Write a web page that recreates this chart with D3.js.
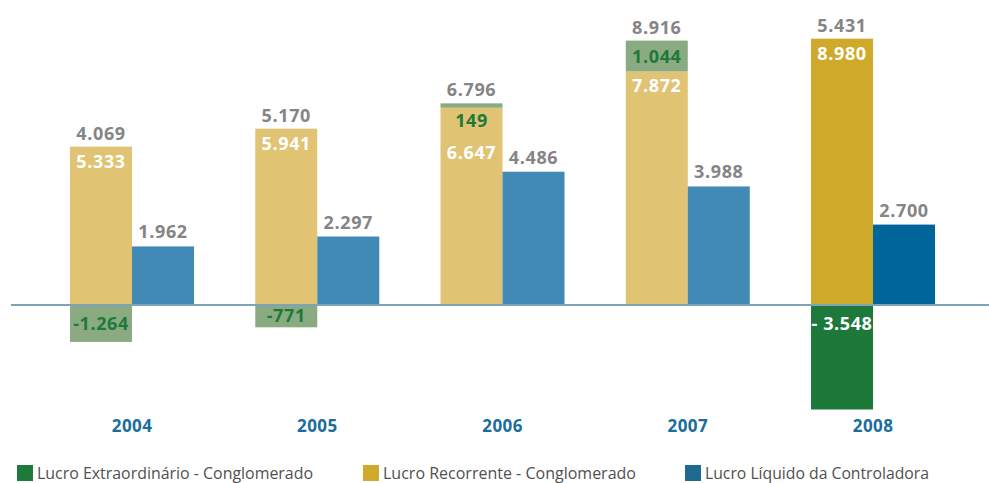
<!DOCTYPE html>
<html>
<head>
<meta charset="utf-8">
<script src="https://cdn.jsdelivr.net/npm/d3@7"></script>
<style>
html,body{margin:0;padding:0;background:#fff;}
svg{display:block;}
</style>
</head>
<body>
<svg id="chart" width="989" height="483"></svg>
<script>
const years = ['2004','2005','2006','2007','2008'];
const recorrente = [5333, 5941, 6647, 7872, 8980];
const extraordinario = [-1264, -771, 149, 1044, -3548];
const liquido = [1962, 2297, 4486, 3988, 2700];
const totais = [4069, 5170, 6796, 8916, 5431];
const extraLabels = ['-1.264', '-771', '149', '1.044', '- 3.548'];
const legendLabels = ['Lucro Extraordinário - Conglomerado', 'Lucro Recorrente - Conglomerado', 'Lucro Líquido da Controladora'];
const highlightYear = '2008';

const pt = d3.formatLocale({decimal: ',', thousands: '.', grouping: [3], currency: ['R$', '']});
const fmt = pt.format(',d');

const svg = d3.select('#chart');
const x = d3.scaleBand().domain(years).range([39.4, 965.65]).paddingInner(0.3306).paddingOuter(0.1653);
const sub = d3.scaleBand().domain(['rec', 'liq']).range([0, x.bandwidth()]);
const y = d3.scaleLinear().domain([-4000, 10000]).range([304.5 + 4000 * 0.0296, 304.5 - 10000 * 0.0296]);

const col = {
  rec: '#e0c373', recH: '#cfa92a',
  ext: '#8aab82', extH: '#1d793a',
  liq: '#418ab5', liqH: '#006699'
};
const numFont = "'Open Sans', sans-serif";

const g = svg.append('g');

years.forEach((yr, i) => {
  const hl = yr === highlightYear;
  const x0 = x(yr) + sub('rec');
  const x1 = x(yr) + sub('liq');
  const w = sub.bandwidth();
  const rec = recorrente[i], ext = extraordinario[i], liq = liquido[i];

  g.append('rect').attr('x', x0).attr('width', w)
    .attr('y', y(rec)).attr('height', y(0) - y(rec))
    .attr('fill', hl ? col.recH : col.rec);

  let e0, e1;
  if (ext < 0) { e0 = 0; e1 = ext; } else { e0 = rec; e1 = rec + ext; }
  const eTop = y(Math.max(e0, e1)), eBot = y(Math.min(e0, e1));
  g.append('rect').attr('x', x0).attr('width', w)
    .attr('y', eTop).attr('height', eBot - eTop)
    .attr('fill', hl ? col.extH : col.ext);

  g.append('rect').attr('x', x1).attr('width', w)
    .attr('y', y(liq)).attr('height', y(0) - y(liq))
    .attr('fill', hl ? col.liqH : col.liq);

  const topPos = y(Math.max(rec, rec + Math.max(ext, 0)));

  g.append('text').attr('x', x0 + w / 2).attr('y', topPos - 7)
    .attr('text-anchor', 'middle').attr('fill', '#858585')
    .text(fmt(totais[i]));

  let extY, recShift = 0;
  if (ext < 0) {
    extY = Math.min(eBot - 5, y(0) + 25);
  } else if (eBot - eTop >= 22) {
    extY = (eTop + eBot) / 2 + 6.5;
  } else {
    extY = eBot + 19;
    recShift = 30;
  }
  g.append('text').attr('x', x0 + w / 2).attr('y', extY)
    .attr('text-anchor', 'middle').attr('fill', hl ? '#ffffff' : '#1e7a3a')
    .text(extraLabels[i]);

  g.append('text').attr('x', x0 + w / 2).attr('y', y(rec) + 21 + recShift)
    .attr('text-anchor', 'middle').attr('fill', '#ffffff')
    .text(fmt(rec));

  g.append('text').attr('x', x1 + w / 2).attr('y', y(liq) - 8)
    .attr('text-anchor', 'middle').attr('fill', '#858585')
    .text(fmt(liq));
});

g.selectAll('text')
  .attr('font-family', numFont).attr('font-weight', 700)
  .attr('font-size', 18).attr('letter-spacing', 0.6);

svg.append('line').attr('x1', 11).attr('x2', 989)
  .attr('y1', y(0) + 0.5).attr('y2', y(0) + 0.5)
  .attr('stroke', '#7fa2b7').attr('stroke-width', 2);

const xAxis = d3.axisBottom(x).tickSize(0).tickPadding(0);
const ax = svg.append('g').attr('transform', 'translate(0,420)').call(xAxis);
ax.select('.domain').remove();
ax.selectAll('text')
  .attr('font-family', numFont).attr('font-weight', 700)
  .attr('font-size', 17).attr('fill', '#1a6d9c').attr('letter-spacing', 0.4);

const legendColors = ['#1e7a3c', '#d0aa2a', '#1e6a91'];
const legendX = [17, 363, 685];
const legendW = [276, 253, 224];
const lg = svg.append('g');
legendLabels.forEach((t, i) => {
  lg.append('rect').attr('x', legendX[i]).attr('y', 465).attr('width', 16).attr('height', 16)
    .attr('fill', legendColors[i]);
  lg.append('text').attr('x', legendX[i] + 20).attr('y', 478.5)
    .attr('font-family', "'Liberation Sans Narrow', 'Open Sans', sans-serif")
    .attr('font-size', 17).attr('fill', '#505050')
    .attr('textLength', legendW[i]).attr('lengthAdjust', 'spacingAndGlyphs')
    .text(t);
});
</script>
</body>
</html>
